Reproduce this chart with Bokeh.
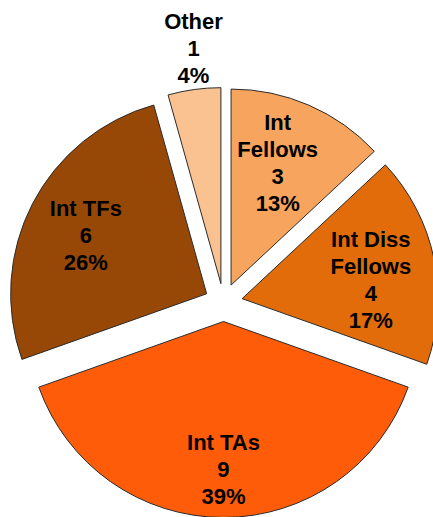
import numpy as np
from bokeh.plotting import figure
from bokeh.models import Range1d, ColumnDataSource
from bokeh.embed import file_html
from bokeh.resources import INLINE
from bokeh.core.properties import value

# ---- data ----
categories = ["Int Fellows", "Int Diss Fellows", "Int TAs", "Int TFs", "Other"]
display_names = ["Int\nFellows", "Int Diss\nFellows", "Int TAs", "Int TFs", "Other"]
counts = [3, 4, 9, 6, 1]
colors = ["#F7A55E", "#E36C0A", "#FF5C0A", "#974807", "#FAC191"]

# ---- layout parameters ----
RADIUS = 196
EXPLODE = 19
label_r = [150, 149, 167, 153, 256]
label_angle_tweak = [-2.3, 3.2, 0.0, -1.5, 1.1]

counts_arr = np.array(counts, dtype=float)
total = counts_arr.sum()
frac = counts_arr / total
theta_end = np.cumsum(frac) * 360.0
theta_start = theta_end - frac * 360.0
theta_mid = (theta_start + theta_end) / 2.0

# math angles (counter-clockwise from +x)
start_rad = np.radians(90.0 - theta_start)
end_rad = np.radians(90.0 - theta_end)
mid_rad_cw = np.radians(theta_mid)

cx = EXPLODE * np.sin(mid_rad_cw)
cy = EXPLODE * np.cos(mid_rad_cw)

pct = [f"{int(round(100 * f))}%" for f in frac]
label_text = [f"{n}\n{c}\n{p}" for n, c, p in zip(display_names, counts, pct)]
lab_ang = np.radians(theta_mid + np.array(label_angle_tweak))
lx = np.array(label_r) * np.sin(lab_ang)
ly = np.array(label_r) * np.cos(lab_ang)

src = ColumnDataSource(dict(
    x=cx, y=cy, start=start_rad, end=end_rad, color=colors,
    cat=categories,
))
lsrc = ColumnDataSource(dict(x=lx, y=ly, text=label_text))

p = figure(width=433, height=517,
           x_range=Range1d(-223, 210), y_range=Range1d(-215, 302),
           output_backend="svg", toolbar_location=None, min_border=0)
p.axis.visible = False
p.grid.visible = False
p.outline_line_color = None
p.background_fill_color = "white"
p.border_fill_color = "white"

p.wedge(x="x", y="y", radius=RADIUS, start_angle="start", end_angle="end",
        direction="clock", fill_color="color", line_color="#2b2b2b",
        line_width=1, source=src)

p.text(x="x", y="y", text="text", source=lsrc,
       text_align="center", text_baseline="middle",
       text_font=value("Liberation Sans"), text_font_style="bold",
       text_font_size="22px", text_line_height=1.08, text_color="black")

open("out.html", "w").write(file_html(p, INLINE))
